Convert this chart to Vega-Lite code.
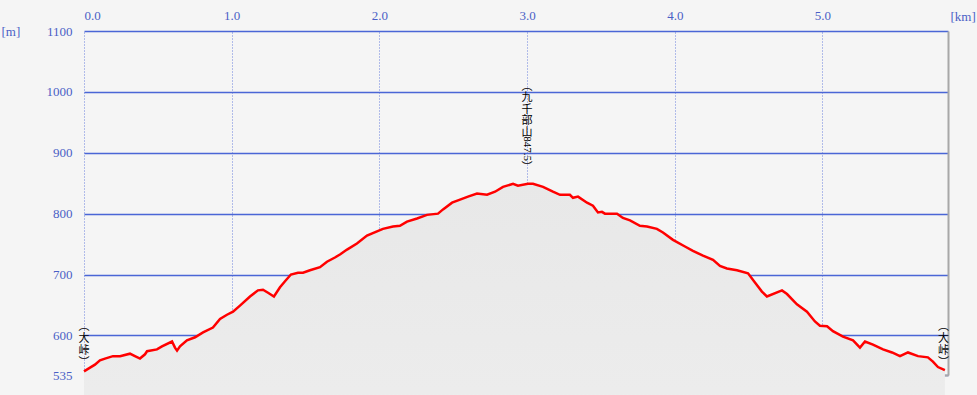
{
  "$schema": "https://vega.github.io/schema/vega-lite/v6.json",
  "width": 864,
  "height": 344,
  "autosize": "none",
  "padding": {"left": 84, "top": 31, "right": 29, "bottom": 20},
  "background": "#f5f5f5",
  "config": {"view": {"stroke": null}, "font": "Liberation Serif"},
  "datasets": {
    "profile": [
      {"km": 0.000, "elev": 541}, {"km": 0.041, "elev": 547}, {"km": 0.074, "elev": 552},
      {"km": 0.108, "elev": 559}, {"km": 0.142, "elev": 562}, {"km": 0.196, "elev": 566},
      {"km": 0.244, "elev": 566}, {"km": 0.311, "elev": 570}, {"km": 0.345, "elev": 566},
      {"km": 0.379, "elev": 562}, {"km": 0.413, "elev": 569}, {"km": 0.427, "elev": 574},
      {"km": 0.494, "elev": 577}, {"km": 0.528, "elev": 582}, {"km": 0.596, "elev": 590},
      {"km": 0.616, "elev": 580}, {"km": 0.630, "elev": 575}, {"km": 0.650, "elev": 582},
      {"km": 0.697, "elev": 592}, {"km": 0.752, "elev": 597}, {"km": 0.806, "elev": 605},
      {"km": 0.873, "elev": 613}, {"km": 0.921, "elev": 627}, {"km": 0.968, "elev": 634},
      {"km": 1.009, "elev": 639}, {"km": 1.056, "elev": 649}, {"km": 1.124, "elev": 664},
      {"km": 1.178, "elev": 674}, {"km": 1.212, "elev": 675}, {"km": 1.246, "elev": 670},
      {"km": 1.286, "elev": 664}, {"km": 1.327, "elev": 679}, {"km": 1.361, "elev": 689},
      {"km": 1.401, "elev": 700}, {"km": 1.449, "elev": 703}, {"km": 1.483, "elev": 703},
      {"km": 1.530, "elev": 707}, {"km": 1.598, "elev": 712}, {"km": 1.645, "elev": 721},
      {"km": 1.699, "elev": 728}, {"km": 1.733, "elev": 733}, {"km": 1.781, "elev": 741},
      {"km": 1.848, "elev": 751}, {"km": 1.916, "elev": 764}, {"km": 1.984, "elev": 771},
      {"km": 2.024, "elev": 775}, {"km": 2.092, "elev": 779}, {"km": 2.139, "elev": 780},
      {"km": 2.187, "elev": 787}, {"km": 2.255, "elev": 792}, {"km": 2.322, "elev": 798},
      {"km": 2.397, "elev": 800}, {"km": 2.431, "elev": 807}, {"km": 2.492, "elev": 818},
      {"km": 2.546, "elev": 823}, {"km": 2.600, "elev": 828}, {"km": 2.661, "elev": 833},
      {"km": 2.729, "elev": 831}, {"km": 2.783, "elev": 836}, {"km": 2.837, "elev": 844},
      {"km": 2.905, "elev": 849}, {"km": 2.938, "elev": 846}, {"km": 3.006, "elev": 849},
      {"km": 3.040, "elev": 849}, {"km": 3.108, "elev": 844}, {"km": 3.175, "elev": 836},
      {"km": 3.223, "elev": 831}, {"km": 3.290, "elev": 831}, {"km": 3.311, "elev": 826},
      {"km": 3.345, "elev": 828}, {"km": 3.406, "elev": 818}, {"km": 3.446, "elev": 813},
      {"km": 3.480, "elev": 802}, {"km": 3.507, "elev": 803}, {"km": 3.527, "elev": 800},
      {"km": 3.609, "elev": 800}, {"km": 3.649, "elev": 793}, {"km": 3.697, "elev": 789},
      {"km": 3.764, "elev": 780}, {"km": 3.812, "elev": 779}, {"km": 3.879, "elev": 775},
      {"km": 3.920, "elev": 769}, {"km": 3.988, "elev": 757}, {"km": 4.069, "elev": 746},
      {"km": 4.123, "elev": 739}, {"km": 4.191, "elev": 731}, {"km": 4.259, "elev": 724},
      {"km": 4.306, "elev": 714}, {"km": 4.353, "elev": 710}, {"km": 4.421, "elev": 707},
      {"km": 4.496, "elev": 702}, {"km": 4.543, "elev": 687}, {"km": 4.590, "elev": 672},
      {"km": 4.624, "elev": 664}, {"km": 4.726, "elev": 674}, {"km": 4.760, "elev": 668},
      {"km": 4.827, "elev": 651}, {"km": 4.895, "elev": 639}, {"km": 4.949, "elev": 623},
      {"km": 4.983, "elev": 616}, {"km": 5.031, "elev": 615}, {"km": 5.071, "elev": 607},
      {"km": 5.139, "elev": 598}, {"km": 5.207, "elev": 592}, {"km": 5.254, "elev": 580},
      {"km": 5.288, "elev": 590}, {"km": 5.342, "elev": 585}, {"km": 5.410, "elev": 577},
      {"km": 5.471, "elev": 572}, {"km": 5.525, "elev": 566}, {"km": 5.579, "elev": 572},
      {"km": 5.647, "elev": 566}, {"km": 5.714, "elev": 564}, {"km": 5.748, "elev": 557},
      {"km": 5.782, "elev": 548}, {"km": 5.829, "elev": 543}
    ],
    "ends": [
      {"km": 0.0, "elev": 541, "label": "︵\n大\n峠\n︶"},
      {"km": 5.82, "elev": 541, "label": "︵\n大\n峠\n︶"}
    ],
    "peak": [
      {"km": 3.0, "elev": 847.5, "head": "︵\n九\n千\n部\n山", "num": "847.5", "tail": "︶"}
    ]
  },
  "layer": [
    {
      "data": {"name": "profile"},
      "mark": {
        "type": "area",
        "fill": {"gradient": "linear", "x1": 0, "y1": 0, "x2": 0, "y2": 1,
          "stops": [{"offset": 0, "color": "#e8e8e8"}, {"offset": 1, "color": "#f2f2f2"}]}
      },
      "encoding": {
        "x": {"field": "km", "type": "quantitative",
          "scale": {"domain": [0, 5.85], "nice": false, "zero": false},
          "axis": {"orient": "top", "values": [0, 1, 2, 3, 4, 5], "format": ".1f",
            "grid": true, "gridColor": "#6a80dc", "gridDash": [1, 2], "gridWidth": 1,
            "domain": false, "ticks": false, "labelPadding": 9, "labelFlush": true,
            "labelColor": "#4a5fc6", "labelFontSize": 13, "labelFont": "Liberation Serif",
            "title": "[km]", "titleAngle": 0, "titleX": 866, "titleY": -15,
            "titleAlign": "left", "titleBaseline": "middle", "titleColor": "#4a5fc6",
            "titleFontWeight": "normal", "titleFontSize": 13, "titleFont": "Liberation Serif"}},
        "y": {"field": "elev", "type": "quantitative",
          "scale": {"domain": [535, 1100], "nice": false, "zero": false},
          "axis": {"orient": "left", "values": [535, 600, 700, 800, 900, 1000, 1100], "format": "d",
            "grid": true, "gridColor": "#4a66d6", "gridWidth": 1.3,
            "domain": false, "ticks": false, "labelPadding": 12,
            "labelColor": "#4a5fc6", "labelFontSize": 13, "labelFont": "Liberation Serif",
            "title": "[m]", "titleAngle": 0, "titleX": -83, "titleY": 0,
            "titleAlign": "left", "titleBaseline": "middle", "titleColor": "#4a5fc6",
            "titleFontWeight": "normal", "titleFontSize": 13, "titleFont": "Liberation Serif"}}
      }
    },
    {
      "data": {"name": "profile"},
      "mark": {"type": "line", "color": "#ff0000", "strokeWidth": 2.5},
      "encoding": {
        "x": {"field": "km", "type": "quantitative",
          "scale": {"domain": [0, 5.85], "nice": false, "zero": false},
          "axis": {"orient": "bottom", "labels": false, "ticks": false, "grid": false,
            "domainColor": "#a8a8a8", "domainWidth": 2, "title": null}},
        "y": {"field": "elev", "type": "quantitative",
          "scale": {"domain": [535, 1100], "nice": false, "zero": false},
          "axis": {"orient": "right", "labels": false, "ticks": false, "grid": false,
            "domainColor": "#a8a8a8", "domainWidth": 2, "title": null}}
      }
    },
    {
      "data": {"name": "ends"},
      "mark": {"type": "text", "lineBreak": "\n", "baseline": "top", "align": "center",
        "dy": -50, "fontSize": 11, "lineHeight": 12, "font": "Noto Sans CJK JP", "color": "#000000"},
      "encoding": {
        "x": {"field": "km", "type": "quantitative", "axis": null},
        "y": {"field": "elev", "type": "quantitative", "axis": null},
        "text": {"field": "label"}
      }
    },
    {
      "data": {"name": "peak"},
      "mark": {"type": "text", "lineBreak": "\n", "baseline": "top", "align": "center",
        "dy": -104, "fontSize": 11, "lineHeight": 11.5, "font": "Noto Sans CJK JP", "color": "#000000"},
      "encoding": {
        "x": {"field": "km", "type": "quantitative", "axis": null},
        "y": {"field": "elev", "type": "quantitative", "axis": null},
        "text": {"field": "head"}
      }
    },
    {
      "data": {"name": "peak"},
      "mark": {"type": "text", "angle": 90, "baseline": "middle", "align": "center",
        "dx": -36, "fontSize": 11, "font": "Liberation Serif", "color": "#000000"},
      "encoding": {
        "x": {"field": "km", "type": "quantitative", "axis": null},
        "y": {"field": "elev", "type": "quantitative", "axis": null},
        "text": {"field": "num"}
      }
    },
    {
      "data": {"name": "peak"},
      "mark": {"type": "text", "baseline": "top", "align": "center",
        "dy": -23, "fontSize": 11, "font": "Noto Sans CJK JP", "color": "#000000"},
      "encoding": {
        "x": {"field": "km", "type": "quantitative", "axis": null},
        "y": {"field": "elev", "type": "quantitative", "axis": null},
        "text": {"field": "tail"}
      }
    }
  ],
  "resolve": {"axis": {"x": "independent", "y": "independent"}}
}
